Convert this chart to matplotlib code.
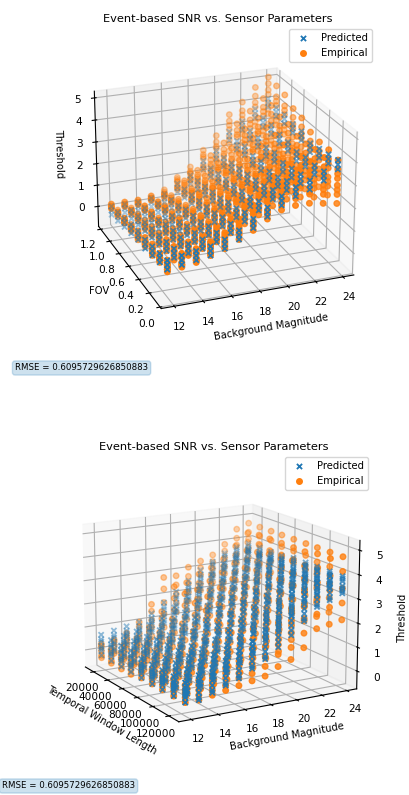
#!/usr/bin/env python3
from matplotlib import pyplot as plt

TITLE = "Event-based SNR vs. Sensor Parameters"
RMSE_TEXT = "RMSE = 0.6095729626850883"

MAGS = [12, 13, 14, 15, 16, 17, 18, 19, 20, 21, 22, 23, 24]
FOVS = [0.1, 0.24, 0.38, 0.52, 0.66, 0.8, 0.94, 1.08, 1.22]
WINDOWS = [15000, 29000, 43000, 56000, 70000, 84000, 97000, 111000, 125000]

# thresholds in tenths, one table per level of a column
# top plot: rows follow FOVS, columns follow MAGS
TOP_PRED_A = [
    [7, 8, 9, 10, 12, 15, 19, 23, 27, 30, 32, 35, 39],
    [6, 7, 8, 9, 11, 14, 18, 22, 26, 29, 31, 34, 38],
    [5, 6, 7, 8, 10, 13, 16, 20, 24, 27, 30, 34, 37],
    [4, 5, 6, 7, 8, 11, 15, 19, 23, 26, 29, 33, 36],
    [4, 4, 5, 5, 7, 10, 13, 18, 22, 27, 30, 34, 38],
    [3, 3, 3, 4, 6, 9, 12, 17, 21, 26, 29, 34, 38],
    [2, 2, 2, 3, 4, 8, 11, 16, 20, 27, 30, 35, 39],
    [1, 1, 1, 2, 3, 7, 10, 15, 19, 26, 30, 35, 39],
    [0, 0, 0, 1, 2, 6, 9, 15, 19, 27, 31, 36, 40],
]
TOP_PRED_B = [
    [5, 6, 7, 8, 10, 13, 17, 21, 25, 28, 30, 33, 37],
    [4, 5, 6, 7, 9, 12, 16, 20, 24, 27, 29, 32, 36],
    [3, 4, 5, 6, 8, 11, 14, 18, 22, 25, 28, 32, 35],
    [2, 3, 4, 5, 6, 9, 13, 17, 21, 24, 27, 31, 34],
    [2, 2, 3, 3, 5, 8, 11, 16, 20, 25, 28, 32, 36],
    [1, 1, 1, 2, 4, 7, 10, 15, 19, 24, 27, 32, 36],
    [0, 0, 0, 1, 2, 6, 9, 14, 18, 25, 28, 33, 37],
    [-1, -1, -1, 0, 1, 5, 8, 13, 17, 24, 28, 33, 37],
    [-2, -2, -2, -1, 0, 4, 7, 13, 17, 25, 29, 34, 38],
]
TOP_PRED_C = [
    [3, 4, 5, 6, 8, 11, 15, 19, 23, 26, 28, 31, 35],
    [2, 3, 4, 5, 7, 10, 14, 18, 22, 25, 27, 30, 34],
    [1, 2, 3, 4, 6, 9, 12, 16, 20, 23, 26, 30, 33],
    [0, 1, 2, 3, 4, 7, 11, 15, 19, 22, 25, 29, 32],
    [0, 0, 1, 1, 3, 6, 9, 14, 18, 23, 26, 30, 34],
    [-1, -1, -1, 0, 2, 5, 8, 13, 17, 22, 25, 30, 34],
    [-2, -2, -2, -1, 0, 4, 7, 12, 16, 23, 26, 31, 35],
    [-3, -3, -3, -2, -1, 3, 6, 11, 15, 22, 26, 31, 35],
    [-4, -4, -4, -3, -2, 2, 5, 11, 15, 23, 27, 32, 36],
]
TOP_EMP_A = [
    [2, 3, 4, 6, 8, 11, 14, 18, 21, 22, 22, 21, 20],
    [2, 2, 3, 5, 7, 10, 13, 16, 19, 21, 21, 20, 20],
    [1, 2, 3, 4, 6, 9, 11, 15, 18, 19, 20, 20, 20],
    [1, 1, 2, 4, 5, 7, 10, 13, 16, 18, 19, 19, 20],
    [0, 1, 1, 3, 4, 6, 8, 12, 15, 18, 19, 20, 22],
    [0, 0, 1, 2, 3, 6, 8, 12, 14, 18, 19, 21, 23],
    [0, 0, 0, 2, 2, 5, 7, 10, 13, 18, 20, 22, 25],
    [-1, -1, 0, 1, 1, 4, 6, 10, 12, 18, 20, 23, 26],
    [-1, -1, -1, 0, 0, 3, 5, 9, 11, 18, 21, 24, 28],
]
TOP_EMP_B = [
    [3, 4, 5, 7, 9, 13, 16, 20, 23, 25, 26, 25, 24],
    [3, 3, 4, 6, 8, 12, 15, 18, 22, 24, 25, 24, 24],
    [2, 3, 4, 5, 7, 11, 13, 17, 20, 22, 24, 24, 24],
    [2, 2, 3, 5, 6, 9, 12, 15, 19, 21, 23, 23, 24],
    [1, 2, 2, 4, 5, 8, 10, 14, 18, 21, 23, 24, 26],
    [1, 1, 2, 3, 4, 7, 10, 14, 17, 21, 23, 25, 27],
    [0, 1, 1, 3, 3, 6, 9, 12, 16, 21, 24, 26, 30],
    [0, 0, 0, 1, 2, 5, 8, 12, 15, 21, 24, 27, 31],
    [-1, -1, -1, 0, 1, 4, 7, 11, 14, 21, 25, 28, 33],
]
TOP_EMP_G = [
    [3, 4, 5, 7, 10, 14, 17, 21, 24, 26, 27, 27, 26],
    [3, 4, 4, 6, 9, 12, 16, 19, 23, 25, 26, 26, 26],
    [2, 3, 4, 5, 7, 11, 14, 18, 21, 23, 25, 26, 26],
    [2, 2, 3, 5, 6, 9, 13, 16, 20, 22, 24, 25, 26],
    [1, 2, 2, 4, 5, 8, 11, 15, 19, 22, 25, 26, 28],
    [1, 1, 2, 3, 4, 8, 11, 15, 18, 22, 25, 27, 29],
    [0, 1, 1, 3, 3, 6, 10, 13, 17, 23, 26, 28, 32],
    [0, 0, 0, 1, 2, 6, 9, 13, 16, 22, 26, 29, 33],
    [-1, -1, -1, 0, 1, 4, 7, 12, 15, 23, 27, 30, 35],
]
TOP_EMP_C = [
    [4, 5, 6, 8, 11, 15, 18, 22, 26, 28, 29, 29, 28],
    [4, 5, 5, 7, 10, 13, 17, 20, 24, 27, 28, 28, 28],
    [3, 4, 5, 6, 8, 12, 15, 19, 23, 25, 27, 28, 28],
    [3, 3, 4, 6, 7, 10, 14, 17, 21, 24, 26, 27, 28],
    [2, 3, 3, 5, 6, 9, 12, 16, 21, 24, 27, 29, 31],
    [1, 2, 2, 4, 5, 9, 12, 16, 20, 24, 27, 29, 32],
    [1, 1, 1, 3, 4, 7, 11, 14, 19, 25, 28, 31, 34],
    [0, 0, 1, 2, 3, 7, 10, 14, 18, 24, 28, 31, 35],
    [0, 0, 0, 1, 2, 5, 8, 13, 17, 25, 29, 33, 38],
]
TOP_EMP_D = [
    [5, 7, 8, 10, 12, 16, 21, 25, 28, 31, 33, 33, 31],
    [4, 6, 7, 9, 11, 15, 19, 23, 27, 30, 32, 33, 32],
    [4, 5, 6, 8, 10, 14, 18, 22, 25, 29, 31, 32, 32],
    [3, 4, 5, 6, 9, 12, 16, 20, 24, 27, 30, 32, 33],
    [2, 3, 4, 5, 8, 11, 14, 19, 23, 28, 30, 33, 35],
    [2, 2, 3, 4, 6, 10, 14, 19, 22, 28, 30, 34, 36],
    [1, 2, 2, 4, 5, 9, 12, 17, 21, 28, 32, 35, 39],
    [1, 1, 1, 2, 3, 8, 11, 16, 20, 28, 31, 36, 40],
    [0, 0, 0, 1, 2, 7, 10, 16, 20, 28, 32, 37, 42],
]
TOP_EMP_H = [
    [5, 7, 8, 10, 13, 17, 22, 26, 29, 32, 34, 35, 33],
    [4, 6, 7, 9, 12, 15, 20, 24, 28, 31, 33, 35, 34],
    [4, 5, 6, 8, 10, 14, 19, 23, 26, 30, 32, 34, 34],
    [3, 4, 5, 6, 9, 12, 17, 21, 25, 28, 31, 34, 35],
    [2, 3, 4, 5, 8, 11, 15, 20, 24, 29, 32, 35, 37],
    [2, 2, 3, 4, 6, 11, 14, 20, 23, 29, 32, 36, 38],
    [1, 2, 2, 4, 5, 9, 13, 18, 22, 30, 33, 37, 41],
    [1, 1, 1, 2, 3, 9, 12, 17, 21, 29, 33, 38, 42],
    [0, 0, 0, 1, 2, 7, 10, 17, 21, 30, 34, 39, 44],
]
TOP_EMP_E = [
    [6, 8, 9, 11, 14, 18, 23, 27, 31, 34, 36, 37, 35],
    [5, 7, 8, 10, 13, 16, 21, 25, 29, 33, 35, 37, 36],
    [5, 6, 7, 9, 11, 15, 20, 24, 28, 32, 34, 36, 36],
    [4, 5, 6, 7, 10, 13, 18, 22, 26, 30, 33, 36, 37],
    [3, 4, 5, 6, 9, 12, 16, 21, 26, 31, 34, 38, 40],
    [2, 3, 3, 5, 7, 12, 15, 21, 25, 31, 34, 38, 41],
    [2, 2, 3, 4, 6, 10, 14, 19, 24, 32, 35, 40, 43],
    [1, 1, 2, 3, 4, 10, 13, 19, 23, 31, 35, 40, 44],
    [1, 1, 1, 2, 3, 8, 11, 18, 23, 32, 36, 42, 47],
]
TOP_EMP_F = [
    [7, 9, 10, 12, 15, 20, 25, 29, 33, 37, 40, 41, 39],
    [6, 8, 9, 11, 14, 18, 23, 27, 32, 36, 39, 41, 40],
    [6, 7, 8, 10, 12, 17, 22, 26, 30, 35, 38, 40, 40],
    [5, 6, 7, 8, 11, 15, 20, 24, 29, 33, 37, 40, 41],
    [4, 5, 6, 7, 10, 14, 18, 23, 29, 34, 38, 42, 44],
    [3, 4, 4, 6, 8, 13, 17, 23, 28, 34, 38, 42, 45],
    [2, 3, 3, 5, 7, 11, 16, 21, 27, 35, 39, 44, 48],
    [2, 2, 2, 3, 5, 11, 15, 21, 26, 34, 39, 44, 49],
    [1, 1, 1, 2, 4, 9, 13, 20, 26, 35, 40, 46, 50],
]

# bottom plot: rows follow WINDOWS, columns follow MAGS
BOT_PRED_A = [
    [7, 8, 9, 10, 13, 17, 21, 25, 29, 32, 35, 37, 38],
    [7, 8, 9, 11, 13, 17, 21, 25, 29, 33, 36, 38, 38],
    [7, 8, 9, 11, 14, 17, 21, 25, 29, 33, 36, 38, 38],
    [7, 8, 10, 11, 14, 17, 21, 25, 29, 33, 36, 38, 38],
    [6, 8, 10, 11, 14, 18, 22, 26, 30, 33, 37, 39, 39],
    [6, 8, 10, 11, 14, 18, 22, 26, 30, 34, 37, 39, 39],
    [6, 8, 10, 12, 15, 18, 22, 26, 30, 34, 37, 40, 39],
    [6, 8, 10, 12, 15, 18, 22, 26, 30, 34, 38, 40, 39],
    [6, 8, 10, 12, 15, 18, 22, 26, 30, 34, 38, 40, 39],
]
BOT_PRED_E = [
    [5, 6, 7, 8, 11, 15, 19, 23, 27, 31, 34, 36, 37],
    [5, 6, 7, 9, 11, 15, 19, 23, 27, 31, 35, 37, 37],
    [5, 6, 7, 9, 12, 15, 19, 23, 27, 31, 35, 37, 37],
    [5, 6, 8, 9, 12, 15, 19, 23, 27, 31, 35, 37, 37],
    [4, 6, 8, 9, 12, 16, 20, 24, 28, 31, 35, 37, 38],
    [4, 6, 8, 9, 12, 16, 20, 24, 28, 32, 35, 37, 38],
    [4, 6, 8, 10, 13, 16, 20, 24, 28, 32, 35, 38, 38],
    [4, 6, 8, 10, 13, 16, 20, 24, 28, 32, 36, 38, 38],
    [4, 6, 8, 10, 13, 16, 20, 24, 28, 32, 36, 38, 38],
]
BOT_PRED_B = [
    [4, 5, 6, 7, 10, 14, 18, 22, 26, 30, 33, 35, 36],
    [4, 5, 6, 8, 10, 14, 18, 22, 26, 30, 34, 36, 36],
    [4, 5, 6, 8, 11, 14, 18, 22, 26, 30, 33, 36, 36],
    [4, 5, 7, 8, 11, 14, 18, 22, 26, 30, 33, 36, 36],
    [3, 5, 7, 8, 11, 15, 18, 22, 26, 30, 34, 36, 37],
    [3, 5, 7, 8, 11, 14, 18, 22, 26, 31, 34, 36, 37],
    [3, 5, 7, 9, 11, 14, 18, 22, 26, 30, 34, 37, 37],
    [3, 5, 7, 9, 11, 14, 18, 22, 26, 30, 35, 37, 37],
    [3, 5, 7, 9, 11, 14, 18, 22, 26, 30, 35, 37, 37],
]
BOT_PRED_F = [
    [2, 3, 5, 6, 9, 12, 16, 21, 25, 28, 31, 34, 35],
    [2, 3, 5, 6, 9, 12, 16, 21, 24, 28, 32, 34, 35],
    [2, 3, 4, 6, 9, 12, 16, 20, 24, 28, 32, 34, 35],
    [2, 3, 4, 6, 9, 12, 16, 20, 24, 28, 32, 34, 35],
    [2, 3, 4, 6, 9, 13, 16, 20, 24, 28, 32, 34, 35],
    [2, 3, 5, 6, 9, 12, 16, 20, 24, 29, 32, 34, 35],
    [2, 3, 5, 7, 9, 12, 16, 20, 24, 28, 32, 35, 35],
    [2, 3, 5, 7, 9, 12, 15, 20, 24, 28, 33, 35, 35],
    [2, 3, 5, 7, 9, 12, 15, 20, 24, 28, 33, 35, 35],
]
BOT_PRED_C = [
    [1, 2, 4, 5, 8, 11, 15, 20, 24, 27, 30, 33, 35],
    [1, 2, 4, 5, 8, 11, 15, 20, 23, 27, 31, 33, 35],
    [1, 2, 3, 5, 8, 11, 15, 19, 23, 27, 31, 33, 35],
    [1, 2, 3, 5, 8, 11, 14, 19, 23, 27, 31, 33, 35],
    [1, 1, 3, 5, 7, 11, 14, 19, 23, 27, 31, 33, 34],
    [1, 1, 3, 5, 7, 10, 14, 18, 22, 27, 31, 33, 34],
    [1, 1, 3, 5, 7, 10, 14, 18, 22, 26, 31, 33, 34],
    [1, 1, 3, 5, 7, 10, 13, 18, 22, 26, 31, 33, 34],
    [1, 1, 3, 5, 7, 10, 13, 18, 22, 26, 31, 33, 34],
]
BOT_PRED_G = [
    [0, 0, 2, 3, 6, 9, 13, 18, 22, 26, 29, 32, 34],
    [0, 0, 2, 3, 6, 9, 13, 18, 21, 26, 29, 32, 34],
    [0, 0, 2, 3, 6, 9, 13, 17, 21, 25, 29, 32, 34],
    [0, 0, 1, 3, 6, 9, 12, 17, 21, 25, 29, 32, 34],
    [0, -1, 1, 3, 5, 9, 12, 17, 21, 25, 29, 31, 33],
    [0, -1, 1, 3, 5, 8, 12, 16, 20, 25, 29, 31, 33],
    [0, -1, 1, 3, 5, 8, 12, 16, 20, 24, 29, 31, 33],
    [0, -1, 1, 3, 5, 8, 11, 16, 20, 24, 29, 31, 33],
    [0, -1, 1, 3, 5, 8, 11, 16, 20, 24, 29, 31, 33],
]
BOT_PRED_D = [
    [-2, -1, 1, 2, 5, 8, 12, 17, 21, 25, 28, 31, 33],
    [-2, -1, 1, 2, 5, 8, 12, 17, 20, 25, 28, 31, 33],
    [-2, -1, 1, 2, 5, 8, 12, 16, 20, 24, 28, 31, 33],
    [-2, -1, 0, 2, 5, 8, 11, 16, 20, 24, 28, 31, 33],
    [-2, -2, 0, 2, 4, 8, 11, 15, 19, 24, 28, 30, 32],
    [-2, -2, 0, 2, 4, 7, 11, 15, 19, 24, 28, 30, 32],
    [-2, -2, 0, 2, 4, 7, 11, 15, 19, 23, 28, 30, 32],
    [-2, -2, 0, 2, 4, 7, 10, 14, 18, 23, 28, 30, 32],
    [-2, -2, 0, 2, 4, 7, 10, 14, 18, 23, 28, 30, 32],
]
BOT_EMP_A = [
    [-3, -2, -1, 0, 3, 6, 12, 16, 20, 23, 26, 30, 32],
    [-3, -2, -1, 0, 3, 6, 11, 15, 18, 22, 25, 29, 31],
    [-3, -2, -1, 0, 3, 5, 10, 14, 17, 20, 24, 28, 29],
    [-3, -2, -1, 0, 2, 5, 9, 12, 15, 19, 23, 26, 28],
    [-2, -2, -1, 0, 2, 4, 8, 11, 14, 18, 22, 25, 27],
    [-2, -2, -1, 0, 2, 4, 6, 10, 12, 16, 22, 24, 25],
    [-2, -2, -1, 0, 2, 3, 5, 9, 11, 15, 21, 23, 24],
    [-2, -2, -1, 0, 1, 3, 4, 7, 9, 13, 20, 21, 22],
    [-2, -2, -1, 0, 1, 2, 3, 6, 8, 12, 19, 20, 21],
]
BOT_EMP_B = [
    [-2, -1, 1, 3, 7, 12, 16, 20, 23, 26, 29, 34, 36],
    [-2, -1, 1, 3, 6, 11, 15, 19, 22, 25, 29, 33, 35],
    [-1, -1, 1, 3, 6, 10, 14, 18, 21, 24, 28, 33, 34],
    [-1, 0, 1, 2, 5, 9, 13, 16, 19, 23, 28, 31, 33],
    [0, 0, 1, 2, 5, 9, 12, 15, 18, 23, 27, 30, 32],
    [0, 0, 1, 2, 5, 8, 10, 14, 17, 21, 27, 30, 31],
    [0, 0, 1, 2, 5, 7, 9, 13, 16, 20, 27, 29, 30],
    [0, 0, 1, 2, 4, 7, 8, 12, 14, 19, 26, 28, 28],
    [0, 0, 1, 2, 4, 5, 7, 11, 13, 18, 25, 27, 28],
]
BOT_EMP_C = [
    [0, 1, 3, 5, 10, 17, 20, 24, 27, 29, 33, 38, 40],
    [0, 1, 3, 5, 10, 16, 19, 23, 25, 29, 33, 37, 39],
    [1, 1, 3, 5, 9, 15, 18, 22, 25, 28, 32, 37, 38],
    [1, 2, 3, 5, 9, 14, 17, 20, 23, 27, 32, 36, 38],
    [1, 2, 3, 5, 8, 13, 16, 20, 23, 27, 32, 36, 37],
    [1, 2, 3, 5, 8, 12, 14, 19, 22, 26, 32, 35, 36],
    [2, 2, 3, 5, 8, 11, 13, 18, 20, 26, 32, 35, 36],
    [2, 2, 3, 5, 7, 10, 12, 16, 20, 25, 32, 34, 34],
    [2, 2, 3, 5, 6, 9, 11, 15, 19, 24, 32, 34, 34],
]
BOT_EMP_D = [
    [2, 3, 4, 8, 14, 23, 24, 27, 30, 32, 36, 41, 43],
    [2, 3, 4, 8, 13, 21, 23, 26, 29, 32, 36, 41, 43],
    [2, 3, 4, 8, 12, 20, 22, 25, 28, 31, 36, 42, 43],
    [2, 3, 4, 7, 12, 18, 21, 24, 27, 31, 37, 41, 42],
    [3, 3, 4, 7, 11, 18, 20, 24, 27, 32, 37, 41, 42],
    [3, 3, 5, 7, 10, 16, 18, 23, 26, 31, 37, 41, 42],
    [3, 3, 5, 7, 10, 14, 17, 22, 25, 31, 38, 40, 41],
    [3, 4, 5, 7, 9, 14, 16, 21, 25, 30, 37, 40, 41],
    [3, 4, 5, 7, 9, 12, 15, 20, 24, 30, 38, 40, 41],
]
BOT_EMP_E = [
    [3, 4, 6, 10, 17, 28, 28, 31, 33, 35, 39, 45, 47],
    [3, 4, 6, 10, 16, 26, 27, 30, 32, 35, 40, 45, 47],
    [4, 4, 6, 10, 15, 25, 26, 29, 32, 35, 40, 46, 47],
    [4, 5, 6, 9, 15, 23, 25, 28, 31, 35, 41, 46, 47],
    [4, 5, 6, 9, 14, 22, 24, 28, 31, 36, 42, 46, 47],
    [4, 5, 7, 9, 13, 20, 22, 27, 31, 36, 42, 46, 47],
    [5, 5, 7, 9, 13, 18, 21, 26, 30, 36, 43, 46, 47],
    [5, 6, 7, 9, 12, 17, 20, 25, 30, 36, 43, 47, 47],
    [5, 6, 7, 9, 11, 15, 19, 24, 29, 36, 44, 47, 47],
]

FOV_TICKS = [0.0, 0.2, 0.4, 0.6, 0.8, 1.0, 1.2]
WINDOW_TICKS = [20000, 40000, 60000, 80000, 100000, 120000]
MAG_TICKS = [12, 14, 16, 18, 20, 22, 24]
Z_TICKS = [0, 1, 2, 3, 4, 5]


def columns(xvals, yvals, tables):
    xs, ys, zs = [], [], []
    for table in tables:
        for i, row in enumerate(table):
            for j, z in enumerate(row):
                xs.append(xvals[j])
                ys.append(yvals[i])
                zs.append(z / 10)
    return xs, ys, zs


def scatter_pair(ax, pred, emp):
    # blue stays above orange in the reference, legend order stays predicted first
    ax.scatter(*pred, marker='x', s=14, linewidths=1.3, label='Predicted', zorder=3)
    ax.scatter(*emp, marker='o', s=16, label='Empirical', zorder=2)


def style_axes(ax, title_pad, legend_xy):
    ax.set_title(TITLE, fontsize=8.2, pad=title_pad)
    ax.tick_params(labelsize=7.6, pad=0)
    ax.legend(loc='upper right', fontsize=7.2, borderaxespad=0,
              bbox_to_anchor=(legend_xy[0] / 409, 1 - legend_xy[1] / 795),
              bbox_transform=ax.figure.transFigure)


def rmse_box(fig, px, py):
    fig.text(px / 409, 1 - py / 795, RMSE_TEXT, fontsize=6.2, va='center',
             bbox=dict(boxstyle='round', facecolor='tab:blue', edgecolor='tab:blue', alpha=0.22))


def main():
    fig = plt.figure(figsize=(4.09, 7.95), dpi=100)

    ax = fig.add_axes([62 / 409, 1 - 342 / 795, 312 / 409, 312 / 795], projection='3d',
                      computed_zorder=False)
    pred = columns(MAGS, FOVS, [TOP_PRED_A, TOP_PRED_B, TOP_PRED_C])
    emp = columns(MAGS, FOVS, [TOP_EMP_A, TOP_EMP_B, TOP_EMP_G, TOP_EMP_C, TOP_EMP_D,
                               TOP_EMP_H, TOP_EMP_E, TOP_EMP_F])
    scatter_pair(ax, pred, emp)
    ax.view_init(elev=23, azim=-111)
    ax.set_xlim(11.1, 24.8)
    ax.set_ylim(-0.02, 1.25)
    ax.set_zlim(-0.95, 5.3)
    ax.set_xticks(MAG_TICKS)
    ax.set_yticks(FOV_TICKS)
    ax.set_zticks(Z_TICKS)
    ax.set_xlabel('Background Magnitude', fontsize=7.2, labelpad=-3)
    ax.set_ylabel('FOV', fontsize=7.2, labelpad=-3)
    ax.set_zlabel('Threshold', fontsize=7.2, labelpad=-3)
    style_axes(ax, 6, (372, 29))
    rmse_box(fig, 15, 368)

    ax = fig.add_axes([58 / 409, 1 - 766 / 795, 312 / 409, 312 / 795], projection='3d',
                      computed_zorder=False)
    pred = columns(MAGS, WINDOWS, [BOT_PRED_A, BOT_PRED_E, BOT_PRED_B, BOT_PRED_F, BOT_PRED_C,
                                   BOT_PRED_G, BOT_PRED_D])
    emp = columns(MAGS, WINDOWS, [BOT_EMP_A, BOT_EMP_B, BOT_EMP_C, BOT_EMP_D, BOT_EMP_E])
    # window runs along x here, magnitude along y
    scatter_pair(ax, (pred[1], pred[0], pred[2]), (emp[1], emp[0], emp[2]))
    ax.view_init(elev=15, azim=-30)
    ax.set_xlim(8000, 132000)
    ax.set_ylim(11.1, 24.8)
    ax.set_zlim(-0.75, 5.4)
    ax.set_xticks(WINDOW_TICKS)
    ax.set_yticks(MAG_TICKS)
    ax.set_zticks(Z_TICKS)
    ax.set_xlabel('Temporal Window Length', fontsize=7.2, labelpad=-3)
    ax.set_ylabel('Background Magnitude', fontsize=7.2, labelpad=-3)
    ax.set_zlabel('Threshold', fontsize=7.2, labelpad=-3)
    style_axes(ax, 3, (368, 457))
    rmse_box(fig, 2, 786)

    fig.savefig("out.png", dpi=100)


if __name__ == "__main__":
    main()
